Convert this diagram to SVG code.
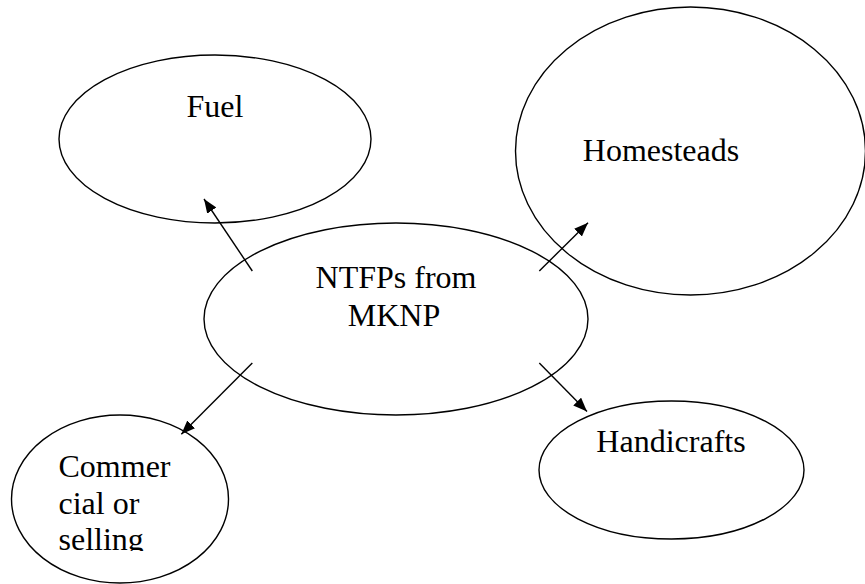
<svg xmlns="http://www.w3.org/2000/svg" width="865" height="584" viewBox="0 0 865 584">
  <style>
    .node ellipse { fill: #ffffff; stroke: #000000; stroke-width: 1.4; }
    .node text { font-family: "Liberation Serif", "Times New Roman", serif; font-size: 32px; fill: #000000; }
    .edges line { stroke: #000000; stroke-width: 1.4; marker-end: url(#arrow); }
  </style>
  <defs>
    <marker id="arrow" viewBox="0 0 14 11" refX="14" refY="5.5" markerWidth="14" markerHeight="11" markerUnits="userSpaceOnUse" orient="auto">
      <path d="M0,0 L14,5.5 L0,11 Z" fill="#000000"/>
    </marker>
    <clipPath id="clip-sell">
      <rect x="0" y="400" width="300" height="151"/>
    </clipPath>
  </defs>
  <rect width="865" height="584" fill="#ffffff"/>

  <g id="node-fuel" class="node">
    <ellipse cx="215" cy="139" rx="156" ry="84"/>
    <text x="215" y="117" text-anchor="middle">Fuel</text>
  </g>

  <g id="node-homesteads" class="node">
    <ellipse cx="690.5" cy="151" rx="175" ry="144"/>
    <text x="661" y="161" text-anchor="middle">Homesteads</text>
  </g>

  <g id="node-ntfps" class="node">
    <ellipse cx="396" cy="319" rx="192" ry="96"/>
    <text x="396" y="288" text-anchor="middle">NTFPs from</text>
    <text x="394" y="326" text-anchor="middle">MKNP</text>
  </g>

  <g id="node-commercial" class="node">
    <ellipse cx="120" cy="499" rx="108.5" ry="84"/>
    <g clip-path="url(#clip-sell)">
      <text x="58.5" y="477">Commer</text>
      <text x="58.5" y="513.5">cial or</text>
      <text x="58.5" y="549.5">selling</text>
    </g>
  </g>

  <g id="node-handicrafts" class="node">
    <ellipse cx="671.5" cy="470" rx="132.5" ry="69"/>
    <text x="671" y="452" text-anchor="middle">Handicrafts</text>
  </g>

  <g id="connectors" class="edges">
    <line x1="252.3" y1="271" x2="204" y2="199"/>
    <line x1="539.3" y1="271" x2="588" y2="222.7"/>
    <line x1="252.3" y1="363" x2="181.3" y2="434.3"/>
    <line x1="539.3" y1="363" x2="587" y2="411.5"/>
  </g>
</svg>
